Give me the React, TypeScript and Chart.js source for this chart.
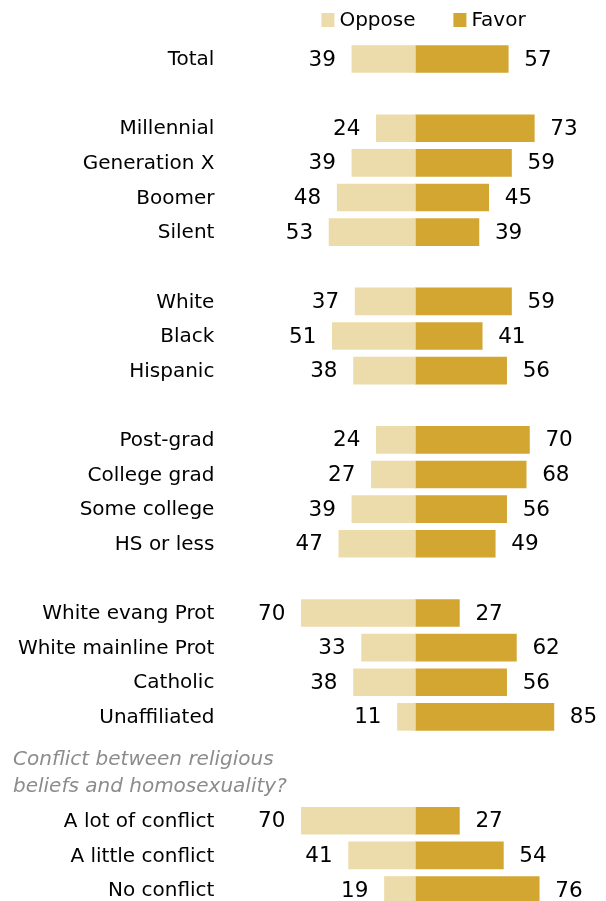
import React, { useEffect, useRef } from "react";
import { Chart, registerables } from "chart.js";

Chart.register(...registerables);

// Row labels ("" marks a blank spacer row)
const categories: string[] = [
  "Total", "",
  "Millennial", "Generation X", "Boomer", "Silent", "",
  "White", "Black", "Hispanic", "",
  "Post-grad", "College grad", "Some college", "HS or less", "",
  "White evang Prot", "White mainline Prot", "Catholic", "Unaffiliated", "", "",
  "A lot of conflict", "A little conflict", "No conflict",
];
const opposeValues: (number | null)[] = [
  39, null,
  24, 39, 48, 53, null,
  37, 51, 38, null,
  24, 27, 39, 47, null,
  70, 33, 38, 11, null, null,
  70, 41, 19,
];
const favorValues: (number | null)[] = [
  57, null,
  73, 59, 45, 39, null,
  59, 41, 56, null,
  70, 68, 56, 49, null,
  27, 62, 56, 85, null, null,
  27, 54, 76,
];
const seriesNames = ["Oppose", "Favor"];
const subtitleLines = ["Conflict between religious", "beliefs and homosexuality?"];
const subtitleSlot = 21;

const OPPOSE_COLOR = "#eddcab";
const FAVOR_COLOR = "#d3a632";
const FONT = "DejaVu Sans";

const labelsPlugin = {
  id: "customLabels",
  afterDatasetsDraw(chart: any) {
    const ctx = chart.ctx;
    const xs = chart.scales.x;
    const ys = chart.scales.y;
    const zero = xs.getPixelForValue(0);
    ctx.save();
    ctx.textBaseline = "middle";
    ctx.fillStyle = "#000";
    categories.forEach((cat, i) => {
      const y = ys.getPixelForValue(i) + 1;
      if (cat) {
        ctx.font = `20px "${FONT}"`;
        ctx.textAlign = "right";
        ctx.fillText(cat, zero - 201, y);
      }
      ctx.font = `21.5px "${FONT}"`;
      const o = opposeValues[i];
      const f = favorValues[i];
      if (o != null) {
        ctx.textAlign = "right";
        ctx.fillText(String(o), xs.getPixelForValue(-o) - 16, y);
      }
      if (f != null) {
        ctx.textAlign = "left";
        ctx.fillText(String(f), xs.getPixelForValue(f) + 16, y);
      }
    });
    // subtitle
    ctx.font = `italic 20px "${FONT}"`;
    ctx.fillStyle = "#8c8c8c";
    ctx.textAlign = "left";
    const ySub = ys.getPixelForValue(subtitleSlot);
    ctx.fillText(subtitleLines[0], 13, ySub - 26);
    ctx.fillText(subtitleLines[1], 13, ySub + 1);
    // legend
    ctx.font = `20px "${FONT}"`;
    ctx.fillStyle = OPPOSE_COLOR;
    ctx.fillRect(zero - 94, 13, 13, 14);
    ctx.fillStyle = FAVOR_COLOR;
    ctx.fillRect(zero + 38, 13, 13, 14);
    ctx.fillStyle = "#000";
    ctx.textAlign = "left";
    ctx.fillText(seriesNames[0], zero - 76, 21);
    ctx.fillText(seriesNames[1], zero + 56, 21);
    ctx.restore();
  },
};

export default function App() {
  const canvasRef = useRef<HTMLCanvasElement | null>(null);
  useEffect(() => {
    if (!canvasRef.current) return;
    const chart = new Chart(canvasRef.current, {
      type: "bar",
      data: {
        labels: categories,
        datasets: [
          {
            label: seriesNames[0],
            data: opposeValues.map((v) => (v == null ? null : -v)),
            backgroundColor: OPPOSE_COLOR,
            barThickness: 27,
            clip: false as any,
          },
          {
            label: seriesNames[1],
            data: favorValues,
            backgroundColor: FAVOR_COLOR,
            barThickness: 27,
            clip: false as any,
          },
        ],
      },
      options: {
        indexAxis: "y",
        animation: false,
        responsive: true,
        maintainAspectRatio: false,
        layout: { padding: { top: 59, bottom: 11, left: 0, right: 0 } },
        plugins: {
          legend: { display: false },
          tooltip: { enabled: false },
        },
        scales: {
          x: {
            stacked: true,
            display: false,
            min: -255,
            max: 117,
          },
          y: {
            stacked: true,
            display: false,
            offset: false,
          },
        },
      },
      plugins: [labelsPlugin],
    });
    return () => chart.destroy();
  }, []);
  return (
    <div style={{ position: "absolute", left: 0, top: 0, width: 606, height: 901, background: "#fff" }}>
      <canvas ref={canvasRef} />
    </div>
  );
}
